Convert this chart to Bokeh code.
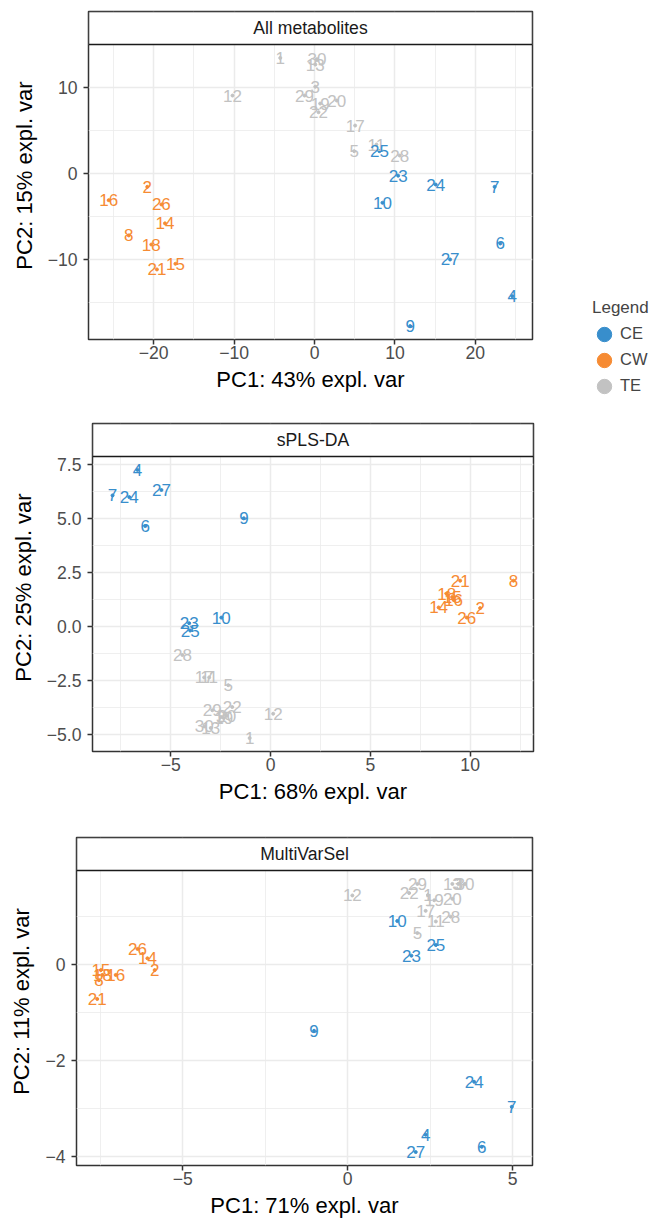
from bokeh.plotting import figure
from bokeh.models import (ColumnDataSource, Legend, LegendItem, FixedTicker, Range1d)
from bokeh.transform import factor_cmap
from bokeh.core.properties import value
from bokeh.embed import file_html
from bokeh.resources import INLINE

FONT = "Liberation Sans"

samples = [str(i) for i in range(1, 31)]
groups = ["TE", "CW", "TE", "CE", "TE", "CE", "CE", "CW", "CE", "CE",
          "TE", "TE", "TE", "CW", "CW", "CW", "TE", "CW", "TE", "TE",
          "CW", "TE", "CE", "CE", "CE", "CW", "CE", "TE", "TE", "TE"]
group_levels = ["CE", "CW", "TE"]
group_colors = ["#388ECC", "#F68B33", "#C2C2C2"]

# Panel 1: All metabolites
all_pc1 = [-4.26, -20.8, 0.1, 24.6, 4.93, 23.1, 22.4, -23.1, 11.9, 8.45,
           7.7, -10.2, 0.1, -18.6, -17.3, -25.6, 5.05, -20.3, 0.7, 2.77,
           -19.6, 0.5, 10.4, 15.07, 8.07, -19.05, 16.86, 10.6, -1.24, 0.3]
all_pc2 = [13.45, -1.55, 10.1, -14.27, 2.6, -8.14, -1.55, -7.2, -17.75, -3.4,
           3.37, 9.07, 12.67, -5.8, -10.5, -3.1, 5.58, -8.26, 8.14, 8.49,
           -11.16, 7.13, -0.25, -1.28, 2.6, -3.6, -10.0, 2.09, 9.07, 13.3]
# Panel 2: sPLS-DA
spls_pc1 = [-1.05, 10.5, -2.5, -6.67, -2.12, -6.28, -7.92, 12.17, -1.34, -2.47,
            -3.08, 0.13, -3.0, 8.42, 9.1, 9.17, -3.33, 8.83, -2.35, -2.2,
            9.5, -1.92, -4.08, -7.08, -4.03, 9.83, -5.47, -4.42, -2.92, -3.33]
spls_pc2 = [-5.18, 0.84, -4.2, 7.24, -2.73, 4.64, 6.06, 2.11, 5.0, 0.4,
            -2.37, -4.05, -4.71, 0.87, 1.35, 1.22, -2.37, 1.49, -4.25, -4.15,
            2.11, -3.74, 0.14, 5.98, -0.2, 0.4, 6.31, -1.33, -3.89, -4.64]
# Panel 3: MultiVarSel
mvs_pc1 = [2.43, -5.85, 3.35, 2.36, 2.11, 4.06, 4.97, -7.54, -1.02, 1.5,
           2.67, 0.14, 3.17, -6.07, -7.48, -7.03, 2.36, -7.43, 2.62, 3.17,
           -7.59, 1.86, 1.93, 3.83, 2.67, -6.37, 2.06, 3.12, 2.11, 3.55]
mvs_pc2 = [1.44, -0.12, 1.67, -3.54, 0.65, -3.79, -2.96, -0.33, -1.38, 0.9,
           0.89, 1.43, 1.67, 0.125, -0.12, -0.22, 1.11, -0.22, 1.33, 1.36,
           -0.72, 1.48, 0.18, -2.44, 0.40, 0.32, -3.9, 0.99, 1.67, 1.67]

titles = ["All metabolites", "sPLS-DA", "MultiVarSel"]
xlabels_axis = ["PC1: 43% expl. var", "PC1: 68% expl. var", "PC1: 71% expl. var"]
ylabels_axis = ["PC2: 15% expl. var", "PC2: 25% expl. var", "PC2: 11% expl. var"]

p1_xticks = [-20, -10, 0, 10, 20]
p1_xtick_labels = ["\u221220", "\u221210", "0", "10", "20"]
p1_xminor = [-25, -15, -5, 5, 15, 25]
p1_yticks = [-10, 0, 10]
p1_ytick_labels = ["\u221210", "0", "10"]
p1_yminor = [-15, -5, 5, 15]

p2_xticks = [-5, 0, 5, 10]
p2_xtick_labels = ["\u22125", "0", "5", "10"]
p2_xminor = [-7.5, -2.5, 2.5, 7.5, 12.5]
p2_yticks = [-5, -2.5, 0, 2.5, 5, 7.5]
p2_ytick_labels = ["\u22125.0", "\u22122.5", "0.0", "2.5", "5.0", "7.5"]
p2_yminor = [-3.75, -1.25, 1.25, 3.75, 6.25]

p3_xticks = [-5, 0, 5]
p3_xtick_labels = ["\u22125", "0", "5"]
p3_xminor = [-7.5, -2.5, 2.5]
p3_yticks = [-4, -2, 0]
p3_ytick_labels = ["\u22124", "\u22122", "0"]
p3_yminor = [-3, -1, 1]

PANEL_PX = 295
STRIP_PX = 33


def make_panel(title, px, py, xt, xtl, xm, yt, ytl, ym, xlab, ylab,
               frame_w, bl, br, bt, bb, with_legend=False):
    xmin, xmax = min(px), max(px)
    xpad = 0.05 * (xmax - xmin)
    x0, x1 = xmin - xpad, xmax + xpad
    ymin, ymax = min(py), max(py)
    ypad = 0.05 * (ymax - ymin)
    y0, y1 = ymin - ypad, ymax + ypad
    ytop = y1 + STRIP_PX * (y1 - y0) / PANEL_PX

    p = figure(frame_width=frame_w, frame_height=PANEL_PX + STRIP_PX,
               x_range=Range1d(x0, x1), y_range=Range1d(y0, ytop),
               output_backend="svg", toolbar_location=None,
               min_border_left=bl, min_border_right=br,
               min_border_top=bt, min_border_bottom=bb)
    p.background_fill_color = "white"
    p.border_fill_color = "white"
    p.outline_line_color = "#333333"
    p.outline_line_width = 1.5

    p.xaxis.ticker = FixedTicker(ticks=xt, minor_ticks=xm)
    p.yaxis.ticker = FixedTicker(ticks=yt, minor_ticks=ym)
    p.xaxis.major_label_overrides = dict(zip(xt, xtl))
    p.yaxis.major_label_overrides = dict(zip(yt, ytl))

    for g in (p.xgrid, p.ygrid):
        g.grid_line_color = "#EBEBEB"
        g.grid_line_width = 1.5
        g.minor_grid_line_color = "#EBEBEB"
        g.minor_grid_line_width = 0.8

    for ax in (p.xaxis, p.yaxis):
        ax.axis_line_color = None
        ax.major_tick_line_color = "#333333"
        ax.major_tick_line_width = 1.5
        ax.major_tick_out = 5
        ax.major_tick_in = 0
        ax.minor_tick_line_color = None
        ax.major_label_text_font = FONT
        ax.major_label_text_font_size = "17.6px"
        ax.major_label_text_color = "#4D4D4D"
        ax.axis_label_text_font = FONT
        ax.axis_label_text_font_size = "22px"
        ax.axis_label_text_font_style = "normal"
        ax.axis_label_text_color = "black"
    p.xaxis.axis_label = xlab
    p.yaxis.axis_label = ylab
    p.xaxis.major_label_standoff = 1
    p.xaxis.axis_label_standoff = 5
    p.yaxis.major_label_standoff = 6
    p.yaxis.axis_label_standoff = 8

    items = []
    for g, c in zip(group_levels, group_colors):
        idx = [i for i, gg in enumerate(groups) if gg == g]
        gsrc = ColumnDataSource(dict(x=[px[i] for i in idx], y=[py[i] for i in idx]))
        r = p.ellipse("x", "y", source=gsrc, width=3, height=3,
                      width_units="screen", height_units="screen",
                      fill_color=c, line_color=c)
        items.append(LegendItem(label=g, renderers=[r], index=0))

    src = ColumnDataSource(dict(x=px, y=py, name=samples, group=groups))
    cmap = factor_cmap("group", palette=group_colors, factors=group_levels)
    p.text("x", "y", text="name", source=src, text_color=cmap,
           text_font=value(FONT), text_font_size="17px",
           text_align="center", text_baseline="middle")

    # facet strip
    p.quad(left=[x0], right=[x1], bottom=[y1], top=[ytop],
           fill_color="white", line_color="#1A1A1A", line_width=1.5)
    p.text(x=[(x0 + x1) / 2], y=[(y1 + ytop) / 2], text=[title],
           text_color="#1A1A1A", text_font=value(FONT), text_font_size="17.6px",
           text_align="center", text_baseline="middle")

    if with_legend:
        leg = Legend(items=items, location=(60, -56))
        leg.title = "Legend"
        leg.title_text_font = FONT
        leg.title_text_font_size = "17px"
        leg.title_text_font_style = "normal"
        leg.title_standoff = 6
        leg.label_text_font = FONT
        leg.label_text_font_size = "16.5px"
        leg.glyph_width = 24
        leg.glyph_height = 18
        leg.label_height = 18
        leg.label_standoff = 4
        leg.spacing = 7
        leg.padding = 0
        leg.margin = 0
        leg.border_line_color = None
        leg.background_fill_alpha = 0
        p.add_layout(leg, "right")
    return p


f1 = make_panel(titles[0], all_pc1, all_pc2, p1_xticks, p1_xtick_labels, p1_xminor,
                p1_yticks, p1_ytick_labels, p1_yminor, xlabels_axis[0], ylabels_axis[0],
                444, 88, 122, 11, 73, with_legend=True)
f2 = make_panel(titles[1], spls_pc1, spls_pc2, p2_xticks, p2_xtick_labels, p2_xminor,
                p2_yticks, p2_ytick_labels, p2_yminor, xlabels_axis[1], ylabels_axis[1],
                441, 92, 10, 11, 77)
f3 = make_panel(titles[2], mvs_pc1, mvs_pc2, p3_xticks, p3_xtick_labels, p3_xminor,
                p3_yticks, p3_ytick_labels, p3_yminor, xlabels_axis[2], ylabels_axis[2],
                456, 76, 10, 9, 58)

open("out.html", "w").write(file_html([f1, f2, f3], INLINE))
